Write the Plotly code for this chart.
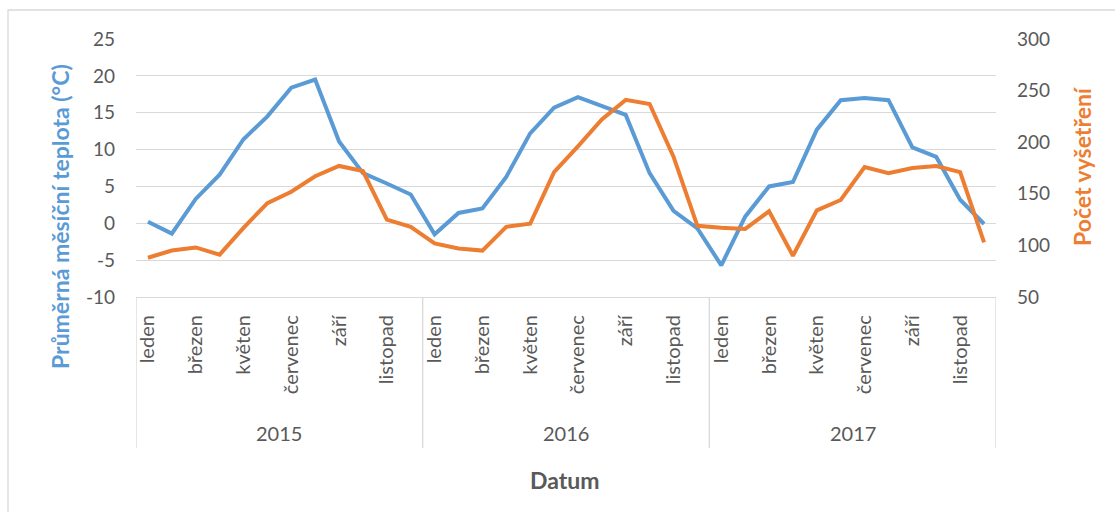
import plotly.graph_objects as go

months = ["leden", "únor", "březen", "duben", "květen", "červen",
          "červenec", "srpen", "září", "říjen", "listopad", "prosinec"]
years = ["2015", "2016", "2017"]
label_months = ["leden", "březen", "květen", "červenec", "září", "listopad"]

temperature = [0.2, -1.4, 3.3, 6.6, 11.4, 14.5, 18.4, 19.5, 11.1, 6.8, 5.4, 3.9,
               -1.5, 1.4, 2.0, 6.3, 12.2, 15.7, 17.1, 15.9, 14.7, 6.8, 1.7, -0.7,
               -5.7, 0.9, 5.0, 5.6, 12.7, 16.7, 17.0, 16.7, 10.3, 9.0, 3.2, -0.1]
examinations = [88, 95, 98, 91, 117, 141, 152, 167, 177, 172, 125, 118,
                102, 97, 95, 118, 121, 171, 196, 222, 241, 237, 186, 119,
                117, 116, 133, 90, 134, 144, 176, 170, 175, 177, 171, 103]

temp_ticks = [-10, -5, 0, 5, 10, 15, 20, 25]
count_ticks = [50, 100, 150, 200, 250, 300]

n = len(temperature)
xs = list(range(n))
tickvals = [i for i in xs if months[i % 12] in label_months]
ticktext = [months[i % 12] for i in tickvals]

BLUE = "#5B9BD5"
ORANGE = "#ED7D31"
GRID = "#D9D9D9"
TXT = "#595959"
FONT = "Lato"

fig = go.Figure()
fig.add_trace(go.Scatter(x=xs, y=temperature, mode="lines",
                         line=dict(color=BLUE, width=4), name="Teplota"))
fig.add_trace(go.Scatter(x=xs, y=examinations, mode="lines", yaxis="y2",
                         line=dict(color=ORANGE, width=4), name="Počet vyšetření"))

W, H = 1115, 512
L, R, T, B = 136, 996, 39, 297
pw, ph = R - L, B - T


def px_x(p):
    return (p - L) / pw


def px_y(p):
    return (B - p) / ph


shapes = []
# year separators
for k in range(len(years) + 1):
    xv = k * 12 - 0.5
    shapes.append(dict(type="line", xref="x", yref="paper", x0=xv, x1=xv,
                       y0=0, y1=px_y(448), line=dict(color=GRID, width=1.3)))
# chart border
shapes.append(dict(type="rect", xref="paper", yref="paper",
                   x0=px_x(8), x1=px_x(1125), y0=px_y(525), y1=px_y(10),
                   line=dict(color=GRID, width=1.3), layer="below"))

annotations = []
for k, yr in enumerate(years):
    annotations.append(dict(text=yr, x=k * 12 + 5.5, xref="x", y=px_y(433), yref="paper",
                            showarrow=False, font=dict(family=FONT, size=20, color=TXT),
                            xanchor="center", yanchor="middle"))
annotations.append(dict(text="<b>Datum</b>", x=px_x(565), xref="paper", y=px_y(480), yref="paper",
                        showarrow=False, font=dict(family=FONT, size=23, color=TXT),
                        xanchor="center", yanchor="middle"))
annotations.append(dict(text="<b>Průměrná měsíční teplota (°C)</b>", x=px_x(60), xref="paper",
                        y=px_y(217), yref="paper", textangle=-90, showarrow=False,
                        font=dict(family=FONT, size=23, color=BLUE),
                        xanchor="center", yanchor="middle"))
annotations.append(dict(text="<b>Počet vyšetření</b>", x=px_x(1082), xref="paper",
                        y=px_y(167), yref="paper", textangle=-90, showarrow=False,
                        font=dict(family=FONT, size=23, color=ORANGE),
                        xanchor="center", yanchor="middle"))

fig.update_layout(
    width=W, height=H,
    margin=dict(l=L, r=W - R, t=T, b=H - B, pad=0),
    paper_bgcolor="white", plot_bgcolor="white",
    showlegend=False,
    font=dict(family=FONT, color=TXT, size=17),
    xaxis=dict(range=[-0.5, n - 0.5], tickvals=tickvals, ticktext=ticktext,
               tickangle=-90, showgrid=False, zeroline=False,
               showline=True, linecolor=GRID, linewidth=1.3,
               ticks="", ticklabelstandoff=9,
               tickfont=dict(family=FONT, size=20, color=TXT)),
    yaxis=dict(range=[-10, 25], tickvals=temp_ticks, ticktext=[str(v) for v in temp_ticks],
               showgrid=True, gridcolor=GRID, gridwidth=1.3,
               zeroline=False, showline=False, ticks="",
               ticklabelstandoff=20, tickfont=dict(family=FONT, size=19, color=TXT)),
    yaxis2=dict(range=[50, 300], tickvals=count_ticks, ticktext=[str(v) for v in count_ticks],
                overlaying="y", side="right",
                showgrid=False, zeroline=False, showline=False, ticks="",
                ticklabelstandoff=20, tickfont=dict(family=FONT, size=19, color=TXT)),
    shapes=shapes,
    annotations=annotations,
)

fig.write_html("out.html", config={"displayModeBar": False},
               post_script="document.body.style.margin='0';")
